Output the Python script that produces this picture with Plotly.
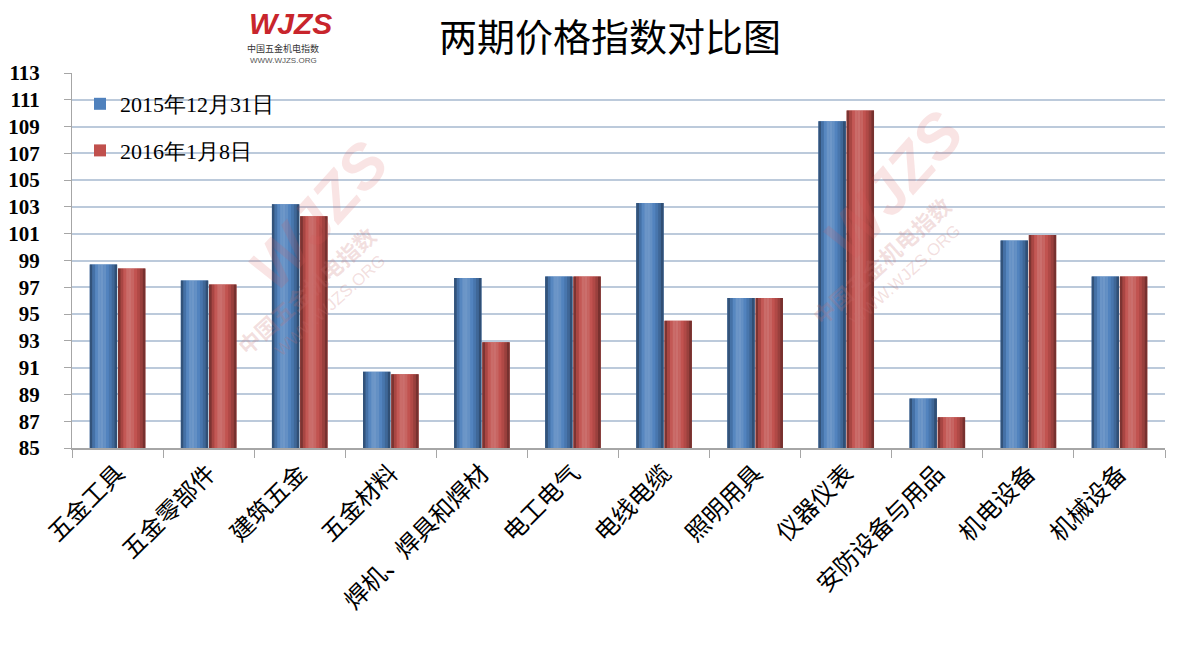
import plotly.graph_objects as go

categories = ["五金工具", "五金零部件", "建筑五金", "五金材料", "焊机、焊具和焊材", "电工电气",
              "电线电缆", "照明用具", "仪器仪表", "安防设备与用品", "机电设备", "机械设备"]
series_2015 = [98.7, 97.5, 103.2, 90.7, 97.7, 97.8, 103.3, 96.2, 109.4, 88.7, 100.5, 97.8]
series_2016 = [98.4, 97.2, 102.3, 90.5, 92.9, 97.8, 94.5, 96.2, 110.2, 87.3, 100.9, 97.8]
series_names = ["2015年12月31日", "2016年1月8日"]
y_ticks = list(range(85, 114, 2))

W, H = 1185, 647
OFF = 8  # page body margin
# target screen coords of plot area
SL, SR, ST, SB = 72, 1165, 73, 448
L, T = SL - OFF, ST - OFF
R = W - (SR - OFF)
B = H - (SB - OFF)

fig = go.Figure()

def shade(rgb, f):
    if f >= 0:
        return "rgb(%d,%d,%d)" % tuple(int(c + (255 - c) * f) for c in rgb)
    return "rgb(%d,%d,%d)" % tuple(int(c * (1 + f)) for c in rgb)

specs = [
    (series_names[0], series_2015, (79, 129, 189), -0.305),
    (series_names[1], series_2016, (192, 80, 77), 0.005),
]
bw = 0.30
nstrip = 10
profile = [-0.35, -0.12, 0.05, 0.16, 0.18, 0.12, 0.02, -0.08, -0.2, -0.38]
for i, (name, vals, rgb, off) in enumerate(specs):
    fig.add_trace(go.Bar(
        x=categories, y=vals, name=name, offset=off, width=bw,
        marker=dict(color="rgb(%d,%d,%d)" % rgb, line=dict(width=0)),
        legendgroup=name, showlegend=True,
    ))
    sw = bw / nstrip
    for k in range(nstrip):
        fig.add_trace(go.Bar(
            x=categories, y=vals, offset=off + k * sw, width=sw * 1.02,
            marker=dict(color=shade(rgb, profile[k]), line=dict(width=0)),
            showlegend=False, hoverinfo="skip", legendgroup=name,
        ))

def px(x):  # screen x -> paper
    return (x - SL) / (SR - SL)

def py(y):  # screen y -> paper
    return (SB - y) / (SB - ST)

ann = []
ann.append(dict(text="<b><i>WJZS</i></b>", x=px(290), y=py(24), font=dict(size=30, color="#C8252C", family="Liberation Sans")))
ann.append(dict(text="中国五金机电指数", x=px(283), y=py(48), font=dict(size=9, color="#333333", family="Noto Sans CJK SC")))
ann.append(dict(text="WWW.WJZS.ORG", x=px(283), y=py(60), font=dict(size=8, color="#555555", family="Liberation Sans")))
for cx, cy in [(318, 215), (893, 185)]:
    ann.append(dict(text="<b><i>WJZS</i></b>", x=px(cx), y=py(cy), textangle=-48,
                    font=dict(size=62, color="rgba(220,90,90,0.16)", family="Liberation Sans")))
    ann.append(dict(text="<b>中国五金机电指数</b>", x=px(cx - 12), y=py(cy + 75), textangle=-42,
                    font=dict(size=22, color="rgba(200,110,110,0.22)", family="Noto Sans CJK SC")))
    ann.append(dict(text="WWW.WJZS.ORG", x=px(cx + 12), y=py(cy + 90), textangle=-42,
                    font=dict(size=17, color="rgba(200,110,110,0.22)", family="Liberation Sans")))
for a in ann:
    a.update(xref="paper", yref="paper", showarrow=False, xanchor="center", yanchor="middle")

fig.update_layout(
    width=W, height=H,
    margin=dict(l=L, r=R, t=T, b=B, autoexpand=False),
    barmode="overlay",
    paper_bgcolor="white", plot_bgcolor="white",
    title=dict(text="两期价格指数对比图", x=(610 - OFF) / W, xanchor="center", y=1 - (38 - OFF) / H, yanchor="middle",
               font=dict(size=38, color="black", family="Noto Sans CJK SC")),
    legend=dict(x=px(80), y=py(83), xanchor="left", yanchor="top", bgcolor="rgba(0,0,0,0)",
                font=dict(size=22, color="black", family="Liberation Serif"),
                tracegroupgap=15, itemwidth=30),
    annotations=ann,
    font=dict(family="Liberation Serif"),
)
fig.update_yaxes(range=[85, 113], tickvals=y_ticks, showgrid=True, gridcolor="#BCCADB", gridwidth=1.5,
                 showline=True, linecolor="#A6A6A6", ticks="outside", ticklen=7, tickcolor="#A6A6A6",
                 ticklabelstandoff=20, zeroline=False, automargin=False,
                 tickfont=dict(size=21, color="black", family="Liberation Serif", weight="bold"))
fig.update_xaxes(showline=True, linecolor="#A6A6A6", linewidth=1.5, ticks="outside", ticklen=8, tickcolor="#A6A6A6",
                 tickson="boundaries", tickangle=-45, showgrid=False, automargin=False,
                 tickfont=dict(size=24, color="black", family="Noto Sans CJK SC"))

fig.write_html("out.html")
